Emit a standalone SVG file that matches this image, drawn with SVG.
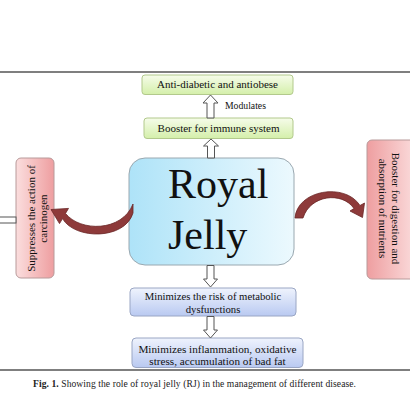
<svg xmlns="http://www.w3.org/2000/svg" width="410" height="410" viewBox="0 0 410 410">
<defs>
<linearGradient id="gGreen" x1="0" y1="0" x2="0" y2="1"><stop offset="0" stop-color="#f6fcea"/><stop offset="1" stop-color="#d4efaa"/></linearGradient>
<linearGradient id="gBlue" x1="0" y1="0" x2="1" y2="0"><stop offset="0" stop-color="#aee3f8"/><stop offset="1" stop-color="#ecf9fe"/></linearGradient>
<linearGradient id="gLav" x1="0" y1="0" x2="0" y2="1"><stop offset="0" stop-color="#eff3fd"/><stop offset="1" stop-color="#b9c9f1"/></linearGradient>
<linearGradient id="gPinkL" x1="0" y1="0" x2="1" y2="0"><stop offset="0" stop-color="#fbdede"/><stop offset="1" stop-color="#ee9ea0"/></linearGradient>
<linearGradient id="gPinkR" x1="0" y1="0" x2="1" y2="0"><stop offset="0" stop-color="#ee9ea0"/><stop offset="1" stop-color="#fbdede"/></linearGradient>
</defs>
<style>
.t{font-family:"Liberation Serif","Times New Roman",serif;fill:#111;}
.box{stroke-width:1;}
.green{fill:url(#gGreen);stroke:#b2c98c;}
.lav{fill:url(#gLav);stroke:#9aa6c4;}
.pink{stroke:#b89a9a;}
.hollow{fill:#fff;stroke:#555;stroke-width:1;}
.curve{fill:#8e3a3a;stroke:#6a2626;stroke-width:0.8;}
.rule{stroke:#555;stroke-width:1.5;}
</style>
<line class="rule" x1="0" y1="72" x2="410" y2="72"/>
<line class="rule" x1="0" y1="370" x2="410" y2="370"/>

<g id="node-antidiabetic">
<rect class="box green" x="142" y="75" width="151" height="19.5" rx="3"/>
<text class="t" x="217.5" y="88" font-size="11" text-anchor="middle">Anti-diabetic and antiobese</text>
</g>
<g id="node-immune">
<rect class="box green" x="144" y="118" width="149" height="20.5" rx="3"/>
<text class="t" x="218.5" y="132" font-size="11" text-anchor="middle">Booster for immune system</text>
</g>
<g id="node-royaljelly">
<rect x="129" y="158" width="165" height="107" rx="16" fill="url(#gBlue)" stroke="#9aa8b0" stroke-width="1"/>
<text class="t" x="168" y="198" font-size="42">Royal</text>
<text class="t" x="168" y="249" font-size="42">Jelly</text>
</g>
<g id="node-suppress">
<rect class="box pink" x="16" y="158" width="38" height="120" rx="5" fill="url(#gPinkL)"/>
<text class="t" font-size="11" text-anchor="middle" transform="translate(34.5 218.5) rotate(-90)">Suppresses the action of</text>
<text class="t" font-size="11" text-anchor="middle" transform="translate(46.5 218.5) rotate(-90)">carcinogen</text>
</g>
<g id="node-digestion">
<rect class="box pink" x="367" y="140" width="50" height="139" rx="5" fill="url(#gPinkR)"/>
<text class="t" font-size="11" text-anchor="middle" transform="translate(391.5 208.5) rotate(90)">Booster for digestion and</text>
<text class="t" font-size="11" text-anchor="middle" transform="translate(378.5 208.5) rotate(90)">absorption of nutrients</text>
</g>
<g id="node-metabolic">
<rect class="box lav" x="130" y="288" width="166" height="28" rx="4"/>
<text class="t" x="213" y="299.5" font-size="10.7" text-anchor="middle">Minimizes the risk of metabolic</text>
<text class="t" x="213" y="312.5" font-size="10.7" text-anchor="middle">dysfunctions</text>
</g>
<g id="node-inflammation">
<rect class="box lav" x="132" y="338" width="171" height="29.5" rx="4"/>
<text class="t" x="217.5" y="353" font-size="11.2" text-anchor="middle">Minimizes inflammation, oxidative</text>
<text class="t" x="217.5" y="365" font-size="11.2" text-anchor="middle">stress, accumulation of bad fat</text>
</g>

<g id="connectors">
<path class="hollow" d="M210.5 95 L218 103 L214 103 L214 118 L207 118 L207 103 L203 103 Z"/>
<text class="t" x="225" y="109" font-size="9.7">Modulates</text>
<path class="hollow" d="M211 139 L218.5 146 L214.5 146 L214.5 158 L207.5 158 L207.5 146 L203.5 146 Z"/>
<path class="hollow" d="M210.5 287 L217.5 279 L214 279 L214 265.5 L207 265.5 L207 279 L203.5 279 Z"/>
<path class="hollow" d="M210.5 338 L217.5 330 L214 330 L214 316.5 L207 316.5 L207 330 L203.5 330 Z"/>
<rect class="hollow" x="-2" y="217" width="18" height="6"/>
<path class="curve" d="M133 213 C125 240 75 240 62.5 218.6 L59.5 223.6 L51 209.5 L68.5 208.4 L65.5 213.4 C80 232 122 232 133 204 Z"/>
<path class="curve" d="M295 218 C297 190 345 182 360 205.5 L364.5 203 L362.5 217.5 L350 211 L354 208.5 C342 191 310 195 303 218 Z"/>
</g>

<text x="33" y="387" font-size="9.6" font-family="Liberation Serif, serif" fill="#222" textLength="323" lengthAdjust="spacing"><tspan font-weight="bold">Fig. 1.</tspan> Showing the role of royal jelly (RJ) in the management of different disease.</text>
</svg>
